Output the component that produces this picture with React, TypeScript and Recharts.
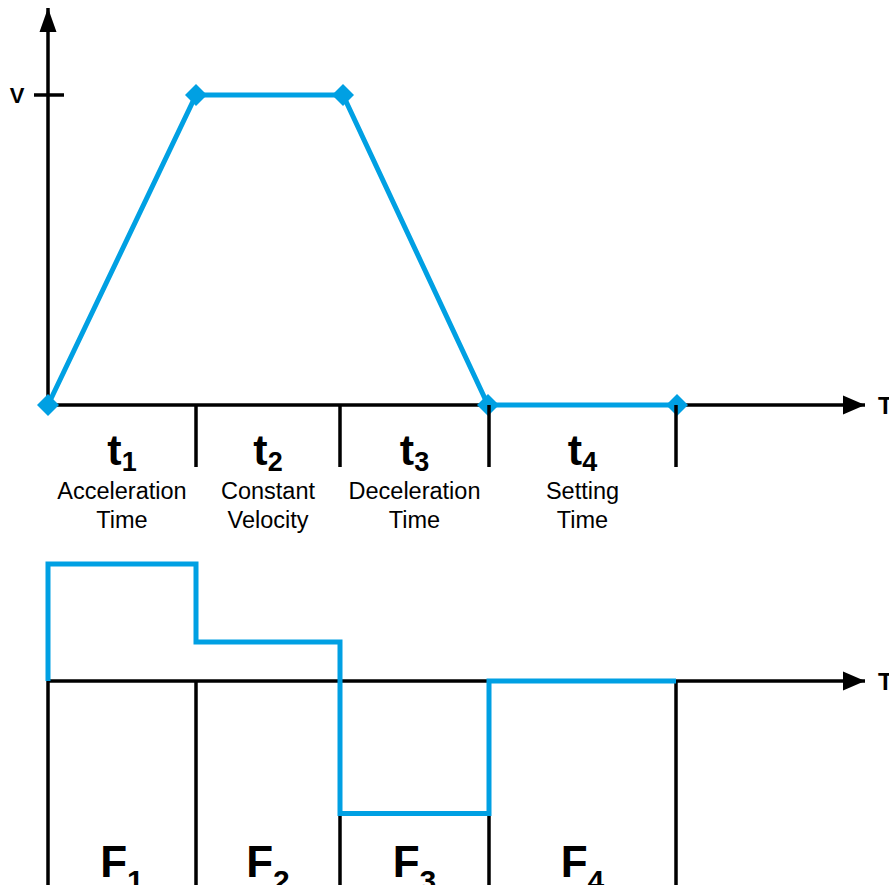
import React from 'react';
import { LineChart, Line, XAxis, YAxis, ReferenceLine, ReferenceDot } from 'recharts';

// ---- data ----
const phaseBoundaries = [0, 148, 292, 441, 628];
const phaseSymbols = ['t', 't', 't', 't'];
const phaseSubscripts = ['1', '2', '3', '4'];
const phaseLine1 = ['Acceleration', 'Constant', 'Deceleration', 'Setting'];
const phaseLine2 = ['Time', 'Velocity', 'Time', 'Time'];
const forceSymbols = ['F', 'F', 'F', 'F'];
const forceSubscripts = ['1', '2', '3', '4'];

const velocityTimes = [0, 148, 295, 440, 629];
const velocityValues = [0, 1, 1, 0, 0];
const velocityTickValues = [1];
const velocityTickLabels = ['V'];

const forceTimes = [0, 0, 148, 292, 441, 628];
const forceValues = [0, 3.0, 1.0, -3.4, 0, 0];

const axisLabel = 'T';

// axis extents (layout of the drawing)
const timeMax = 817;
const velocityTop = 1.2806;
const forceDomain = [-5.231, 3.615];

// ---- styles ----
const BLUE = '#00A0E3';
const FONT = '"Liberation Sans", Arial, Helvetica, sans-serif';
const AXIS_W = 3.5;
const LINE_W = 5;

const velocityData = velocityTimes.map((t, i) => ({ t, v: velocityValues[i] }));
const forceData = forceTimes.map((t, i) => ({ t, f: forceValues[i] }));
const mids = phaseBoundaries.slice(0, -1).map((b, i) => (b + phaseBoundaries[i + 1]) / 2);

const Diamond = (p: any) => {
  const { cx, cy } = p;
  if (cx == null || cy == null) return <g />;
  const r = 11;
  return (
    <polygon
      points={`${cx},${cy - r} ${cx + r},${cy} ${cx},${cy + r} ${cx - r},${cy}`}
      fill={BLUE}
    />
  );
};

const BoundaryTick = (p: any) => {
  const { x, y } = p;
  return <line x1={x} y1={y} x2={x} y2={y + 62} stroke="#000" strokeWidth={AXIS_W} />;
};

const VTick = (p: any) => {
  const { x, y, payload } = p;
  const idx = velocityTickValues.indexOf(payload.value);
  return (
    <g>
      <line x1={x - 14} y1={y} x2={x + 16} y2={y} stroke="#000" strokeWidth={AXIS_W} />
      <text x={x - 31} y={y + 8} textAnchor="middle" fontFamily={FONT} fontWeight="bold" fontSize={22} fill="#000">
        {velocityTickLabels[idx]}
      </text>
    </g>
  );
};

const HArrow = (p: any) => {
  const { cx, cy } = p;
  return (
    <g>
      <polygon points={`${cx},${cy} ${cx - 22},${cy - 9.5} ${cx - 22},${cy + 9.5}`} fill="#000" />
      <text x={cx + 13} y={cy + 9} fontFamily={FONT} fontWeight="bold" fontSize={24} fill="#000">
        {axisLabel}
      </text>
    </g>
  );
};

const VArrow = (p: any) => {
  const { cx, cy } = p;
  return <polygon points={`${cx},${cy} ${cx - 8.5},${cy + 24} ${cx + 8.5},${cy + 24}`} fill="#000" />;
};

const makePhaseLabel = (i: number) => (p: any) => {
  const { cx, cy } = p;
  return (
    <g>
      <text x={cx} y={cy + 60} textAnchor="middle" fontFamily={FONT} fontWeight="bold" fill="#000">
        <tspan fontSize={43}>{phaseSymbols[i]}</tspan>
        <tspan fontSize={27} dy={6}>{phaseSubscripts[i]}</tspan>
      </text>
      <text x={cx} y={cy + 94} textAnchor="middle" fontFamily={FONT} fontSize={23.5} fill="#000">
        {phaseLine1[i]}
      </text>
      <text x={cx} y={cy + 123} textAnchor="middle" fontFamily={FONT} fontSize={23.5} fill="#000">
        {phaseLine2[i]}
      </text>
    </g>
  );
};

const makeForceLabel = (i: number) => (p: any) => {
  const { cx, cy } = p;
  return (
    <text x={cx} y={cy + 196} textAnchor="middle" fontFamily={FONT} fontWeight="bold" fill="#000">
      <tspan fontSize={44}>{forceSymbols[i]}</tspan>
      <tspan fontSize={30} dy={14}>{forceSubscripts[i]}</tspan>
    </text>
  );
};

export default function App() {
  return (
    <div style={{ position: 'absolute', left: 0, top: 0, width: 889, height: 885, background: '#fff', overflow: 'hidden' }}>
      <LineChart width={889} height={540} data={velocityData} margin={{ top: 8, right: 24, bottom: 105, left: 0 }}>
        <XAxis
          dataKey="t"
          type="number"
          domain={[0, timeMax]}
          ticks={phaseBoundaries.slice(1)}
          tickSize={0}
          tickMargin={0}
          tickLine={false}
          axisLine={false}
          tick={<BoundaryTick />}
          interval={0}
        />
        <YAxis
          type="number"
          domain={[0, velocityTop]}
          width={48}
          ticks={velocityTickValues}
          tickSize={0}
          tickMargin={0}
          tickLine={false}
          axisLine={false}
          tick={<VTick />}
          interval={0}
        />
        <ReferenceLine y={0} stroke="#000" strokeWidth={AXIS_W} />
        <ReferenceLine x={0} stroke="#000" strokeWidth={AXIS_W} />
        <ReferenceDot x={timeMax} y={0} shape={HArrow} />
        <ReferenceDot x={0} y={velocityTop} shape={VArrow} />
        {mids.map((m, i) => (
          <ReferenceDot key={i} x={m} y={0} shape={makePhaseLabel(i)} />
        ))}
        <Line
          dataKey="v"
          type="linear"
          stroke={BLUE}
          strokeWidth={LINE_W}
          dot={<Diamond />}
          activeDot={false}
          isAnimationActive={false}
        />
      </LineChart>
      <LineChart width={889} height={345} data={forceData} margin={{ top: 0, right: 24, bottom: 0, left: 48 }}>
        <XAxis dataKey="t" type="number" domain={[0, timeMax]} hide />
        <YAxis type="number" domain={forceDomain} hide />
        <ReferenceLine y={0} stroke="#000" strokeWidth={AXIS_W} />
        {phaseBoundaries.map((b, i) => (
          <ReferenceLine
            key={i}
            segment={[{ x: b, y: 0 }, { x: b, y: forceDomain[0] }]}
            stroke="#000"
            strokeWidth={AXIS_W}
          />
        ))}
        <ReferenceDot x={timeMax} y={0} shape={HArrow} />
        {mids.map((m, i) => (
          <ReferenceDot key={i} x={m} y={0} shape={makeForceLabel(i)} />
        ))}
        <Line
          dataKey="f"
          type="stepAfter"
          stroke={BLUE}
          strokeWidth={LINE_W}
          strokeLinejoin="miter"
          dot={false}
          activeDot={false}
          isAnimationActive={false}
        />
      </LineChart>
    </div>
  );
}
